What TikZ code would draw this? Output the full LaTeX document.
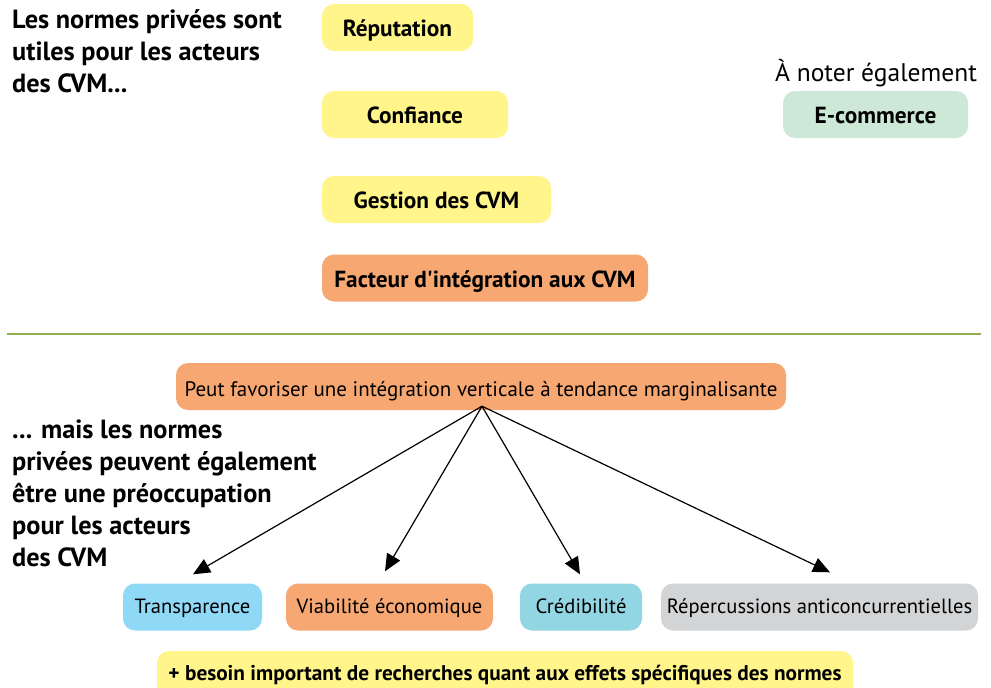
\documentclass[tikz,border=0pt]{standalone}
\usepackage{fontspec}
\setmainfont{PT Sans}
\usetikzlibrary{arrows.meta,calc}
\definecolor{cyel}{HTML}{FFF58A}
\definecolor{corg}{HTML}{F7A872}
\definecolor{cgrn}{HTML}{CDE8D6}
\definecolor{cblu}{HTML}{8FD9F7}
\definecolor{ctea}{HTML}{93D6E3}
\definecolor{cgry}{HTML}{D3D4D6}
\definecolor{cline}{HTML}{8FAE4F}
\tikzset{
  boxbase/.style={rounded corners=12pt, inner sep=0pt, minimum height=47pt},
  hbox/.style={boxbase, text height=20pt, text depth=2pt, font=\fontsize{23.3}{27}\selectfont\bfseries},
  sbox/.style={boxbase, text height=17pt, text depth=4pt, font=\fontsize{20.6}{25}\selectfont},
  bigtext/.style={inner sep=0pt, align=left, anchor=base west, font=\fontsize{26.3}{32}\selectfont\bfseries},
  arr/.style={line width=1.2pt, -{Triangle[length=17pt,width=15pt]}}
}
\begin{document}
\begin{tikzpicture}[x=1pt,y=-1pt]
\clip (0,0) rectangle (991,688);
\fill[white] (0,0) rectangle (991,688);
\node[bigtext] (t1) at (12,92) {Les normes privées sont\\utiles pour les acteurs\\des CVM...};
\node[hbox, fill=cyel, minimum width=151pt] (rep) at (397.5,27.5) {Réputation};
\node[hbox, fill=cyel, minimum width=186pt] (conf) at (415,114.5) {Confiance};
\node[hbox, fill=cyel, minimum width=229pt] (gest) at (436.5,199.5) {Gestion des CVM};
\node[hbox, fill=corg, minimum width=326pt] (fact) at (485,278) {Facteur d\textquotesingle intégration aux CVM};
\node[inner sep=0pt, anchor=base, font=\fontsize{25.5}{30}\selectfont] (note) at (876,81.7) {À noter également};
\node[hbox, fill=cgrn, minimum width=185pt] (ecom) at (875.5,114.5) {E-commerce};
\draw[cline, line width=1.3pt] (7,334) -- (981,334);
\node[sbox, fill=corg, minimum width=610pt, text height=20pt, text depth=1pt, font=\fontsize{21}{25}\selectfont] (peut) at (481,386.5) {Peut favoriser une intégration verticale à tendance marginalisante};
\node[bigtext] (t2) at (12,566) {... mais les normes\\privées peuvent également\\être une préoccupation\\pour les acteurs\\des CVM};
\node[sbox, fill=cblu, minimum width=139pt] (tr) at (192.5,607) {Transparence};
\node[sbox, fill=corg, minimum width=207pt] (via) at (389.5,607) {Viabilité économique};
\node[sbox, fill=ctea, minimum width=122pt] (cred) at (581,607) {Crédibilité};
\node[sbox, fill=cgry, minimum width=317pt] (rep2) at (819.5,607) {Répercussions anticoncurrentielles};
\node[boxbase, fill=cyel, minimum width=696pt, text height=16pt, text depth=4pt, font=\fontsize{21.3}{25}\selectfont\bfseries] (bes) at (505,674.5) {+ besoin important de recherches quant aux effets spécifiques des normes};
\coordinate (src) at ($(peut.south)+(1,-4)$);
\draw[arr] (src) -- ([xshift=0.5pt,yshift=9pt]tr.north);
\draw[arr] (src) -- ([xshift=-4.5pt,yshift=12pt]via.north);
\draw[arr] (src) -- ([xshift=-1pt,yshift=9pt]cred.north);
\draw[arr] (src) -- ([xshift=10.5pt,yshift=11pt]rep2.north);
\end{tikzpicture}
\end{document}
